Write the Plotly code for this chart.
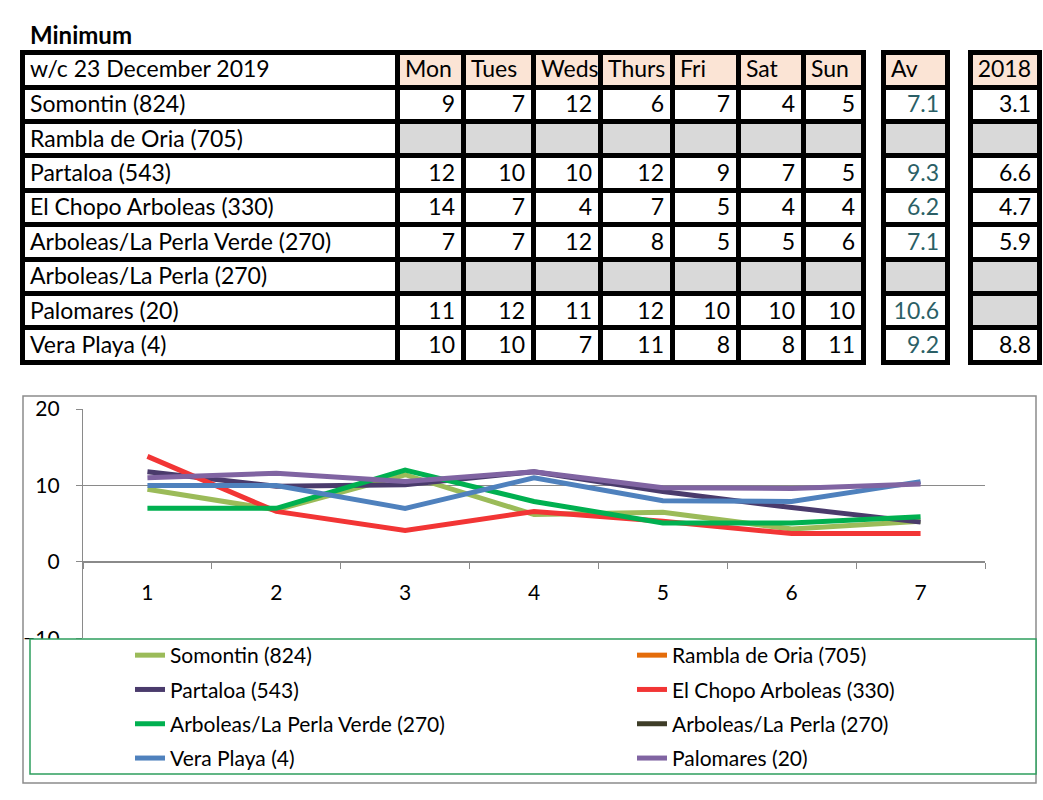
import plotly.graph_objects as go

W, H = 1043, 800

# ---------------- data ----------------
title_text = "Minimum"
week_label = "w/c 23 December 2019"
day_names = ["Mon", "Tues", "Weds", "Thurs", "Fri", "Sat", "Sun"]
day_index = ["1", "2", "3", "4", "5", "6", "7"]
stations = ["Somontin (824)", "Rambla de Oria (705)", "Partaloa (543)",
            "El Chopo Arboleas (330)", "Arboleas/La Perla Verde (270)",
            "Arboleas/La Perla (270)", "Palomares (20)", "Vera Playa (4)"]

# table (rounded) values per station, Mon..Sun
tbl_somontin = [9, 7, 12, 6, 7, 4, 5]
tbl_rambla = [None] * 7
tbl_partaloa = [12, 10, 10, 12, 9, 7, 5]
tbl_chopo = [14, 7, 4, 7, 5, 4, 4]
tbl_verde = [7, 7, 12, 8, 5, 5, 6]
tbl_perla = [None] * 7
tbl_palomares = [11, 12, 11, 12, 10, 10, 10]
tbl_vera = [10, 10, 7, 11, 8, 8, 11]

av_values = ["7.1", "", "9.3", "6.2", "7.1", "", "10.6", "9.2"]
prev_year_label = "2018"
prev_year_values = ["3.1", "", "6.6", "4.7", "5.9", "", "", "8.8"]

# chart (unrounded) values
somontin = [9.5, 6.8, 11.4, 6.2, 6.5, 4.3, 5.3]
rambla = [None] * 7
partaloa = [11.8, 9.9, 10.1, 11.8, 9.2, 7.1, 5.2]
chopo = [13.8, 6.6, 4.1, 6.6, 5.3, 3.7, 3.7]
verde = [7.0, 7.0, 12.0, 7.9, 5.1, 5.1, 5.9]
perla = [None] * 7
palomares = [11.0, 11.6, 10.5, 11.8, 9.7, 9.6, 10.2]
vera = [10.0, 10.0, 7.0, 11.0, 8.0, 7.9, 10.5]

y_ticks = [-10, 0, 10, 20]

# ---------------- helpers ----------------
def px_x(p):
    return p / W

def px_y(p):
    return 1 - p / H

FONT = "Lato"
PEACH = "#fbe4d5"
GREY = "#d9d9d9"
TEAL = "#2b5f66"
TFS = 23   # table font size

tbl_rows = [tbl_somontin, tbl_rambla, tbl_partaloa, tbl_chopo,
            tbl_verde, tbl_perla, tbl_palomares, tbl_vera]

fig = go.Figure()

# ---------------- tables ----------------
day_cols = []
day_fills = []
for d in range(7):
    col = ["" if r[d] is None else str(r[d]) for r in tbl_rows]
    fill = [GREY if r[d] is None else "white" for r in tbl_rows]
    day_cols.append(col)
    day_fills.append(fill)

table_top, table_bot = 52, 385
hdr_h, row_h = 35, 34.4
LW = 5

fig.add_trace(go.Table(
    domain=dict(x=[px_x(22), px_x(863)], y=[px_y(table_bot), px_y(table_top)]),
    columnwidth=[375, 66, 70, 67, 72, 66, 65, 60],
    header=dict(values=[week_label] + day_names,
                fill_color=["white"] + [PEACH] * 7,
                line=dict(color="black", width=LW),
                align="left", height=hdr_h,
                font=dict(family=FONT, size=TFS, color="black")),
    cells=dict(values=[stations] + day_cols,
               fill_color=[["white"] * 8] + day_fills,
               line=dict(color="black", width=LW),
               align=["left"] + ["right"] * 7, height=row_h,
               font=dict(family=FONT, size=TFS, color="black")),
))

fig.add_trace(go.Table(
    domain=dict(x=[px_x(883), px_x(947)], y=[px_y(table_bot), px_y(table_top)]),
    header=dict(values=["Av"], fill_color=PEACH,
                line=dict(color="black", width=LW), align="left", height=hdr_h,
                font=dict(family=FONT, size=TFS, color="black")),
    cells=dict(values=[av_values],
               fill_color=[[GREY if v == "" else "white" for v in av_values]],
               line=dict(color="black", width=LW), align="right", height=row_h,
               font=dict(family=FONT, size=TFS, color=TEAL)),
))

fig.add_trace(go.Table(
    domain=dict(x=[px_x(970), px_x(1039)], y=[px_y(table_bot), px_y(table_top)]),
    header=dict(values=[prev_year_label], fill_color=PEACH,
                line=dict(color="black", width=LW), align="right", height=hdr_h,
                font=dict(family=FONT, size=TFS, color="black")),
    cells=dict(values=[prev_year_values],
               fill_color=[[GREY if v == "" else "white" for v in prev_year_values]],
               line=dict(color="black", width=LW), align="right", height=row_h,
               font=dict(family=FONT, size=TFS, color="black")),
))

# ---------------- line chart ----------------
series = [
    ("Somontin (824)", somontin, "#9bbb59", "legend"),
    ("Rambla de Oria (705)", rambla, "#e46c0a", "legend2"),
    ("Partaloa (543)", partaloa, "#4a3b6c", "legend"),
    ("El Chopo Arboleas (330)", chopo, "#f23535", "legend2"),
    ("Arboleas/La Perla Verde (270)", verde, "#00b050", "legend"),
    ("Arboleas/La Perla (270)", perla, "#3e3d28", "legend2"),
    ("Vera Playa (4)", vera, "#4f81bd", "legend"),
    ("Palomares (20)", palomares, "#8064a2", "legend2"),
]
for name, vals, color, leg in series:
    fig.add_trace(go.Scatter(
        x=day_index, y=vals, name=name, mode="lines",
        line=dict(color=color, width=5),
        legend=leg, legendgroup=name, showlegend=True,
    ))

y_lo, y_hi = -10, 20
dom_y = [px_y(638.3), px_y(409)]
zero_pos = dom_y[0] + (0 - y_lo) / (y_hi - y_lo) * (dom_y[1] - dom_y[0])

AXC = "#8a8a8a"
LFS = 21  # legend font size
fig.update_layout(
    width=W, height=H,
    margin=dict(l=0, r=0, t=0, b=0, autoexpand=False),
    paper_bgcolor="white", plot_bgcolor="white",
    font=dict(family=FONT, color="black"),
    xaxis=dict(domain=[px_x(83), px_x(985)], type="category",
               categoryorder="array", categoryarray=day_index,
               range=[-0.5, len(day_index) - 0.5],
               tickson="boundaries", ticks="outside", ticklen=6,
               tickcolor=AXC, tickwidth=1.3,
               showline=True, linecolor=AXC, linewidth=1.3,
               showgrid=False, zeroline=False,
               anchor="free", position=zero_pos,
               tickfont=dict(size=21, family=FONT, color="black"),
               ticklabelstandoff=12),
    yaxis=dict(domain=dom_y, range=[y_lo, y_hi], tickvals=y_ticks,
               showgrid=True, gridcolor=AXC, gridwidth=1.3,
               ticks="outside", ticklen=6, tickcolor=AXC, tickwidth=1.3,
               showline=True, linecolor=AXC, linewidth=1.3,
               zeroline=False,
               tickfont=dict(size=21, family=FONT, color="black"),
               ticklabelstandoff=12),
    legend=dict(x=px_x(130), y=px_y(635), xanchor="left", yanchor="top",
                bgcolor="rgba(0,0,0,0)", borderwidth=0,
                font=dict(family=FONT, size=LFS, color="black"),
                tracegroupgap=4, traceorder="grouped"),
    legend2=dict(x=px_x(632), y=px_y(635), xanchor="left", yanchor="top",
                 bgcolor="rgba(0,0,0,0)", borderwidth=0,
                 font=dict(family=FONT, size=LFS, color="black"),
                 tracegroupgap=4, traceorder="grouped"),
    shapes=[
        dict(type="rect", xref="paper", yref="paper",
             x0=px_x(23), x1=px_x(1036), y0=px_y(783), y1=px_y(396),
             line=dict(color="#8c8c8c", width=1.5), fillcolor="rgba(0,0,0,0)",
             layer="below"),
        dict(type="rect", xref="paper", yref="paper",
             x0=px_x(30), x1=px_x(1036), y0=px_y(774), y1=px_y(639),
             line=dict(color="#2e9e5e", width=1.5), fillcolor="white",
             layer="above"),
    ],
    annotations=[
        dict(text="<b>" + title_text + "</b>", x=px_x(28), y=px_y(35),
             xref="paper", yref="paper", xanchor="left", yanchor="middle",
             showarrow=False, font=dict(family=FONT, size=24, color="black")),
    ],
)

post = (
    "document.documentElement.style.margin='0';"
    "document.documentElement.style.overflow='hidden';"
    "document.body.style.margin='0';"
    "document.body.style.overflow='hidden';"
    "var gd=document.getElementById('{plot_id}');"
    "gd.style.position='fixed';gd.style.left='0px';gd.style.top='0px';"
)

fig.write_html("out.html", config={"displayModeBar": False}, post_script=post)
